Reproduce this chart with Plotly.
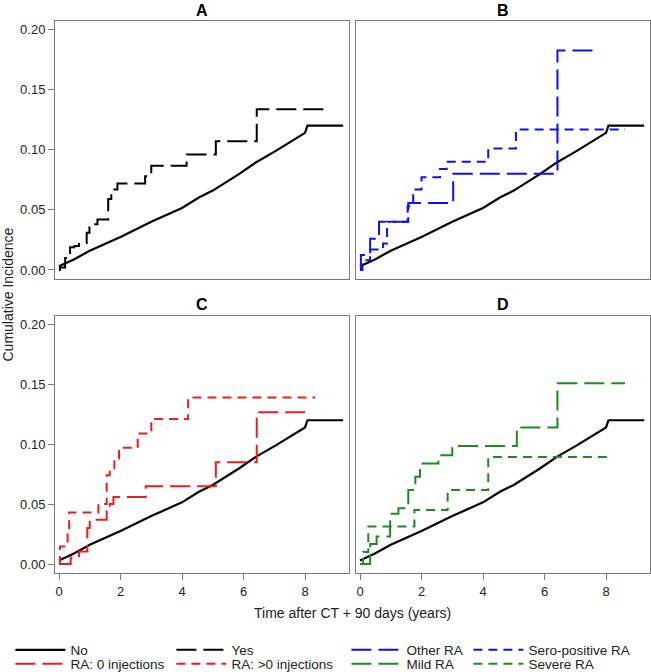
import plotly.graph_objects as go
from plotly.subplots import make_subplots

# ---------------- data ----------------
# Reference group "No" (solid black, shown in every panel)
no_t = [0, 0.5, 1, 2, 3, 4, 4.55, 5, 5.85, 6.4, 7.05, 7.48, 7.91, 8.0, 8.08, 9.24]
no_ci = [0.003, 0.009, 0.016, 0.0275, 0.040, 0.0515, 0.0603, 0.066, 0.0797,
         0.0894, 0.099, 0.106, 0.113, 0.114, 0.120, 0.120]

# Panel A: "Yes"
yes_t = [0, 0.03, 0.2, 0.36, 0.5, 0.65, 0.9, 0.99, 1.25, 1.6, 1.7, 1.8, 1.9, 2.8, 3.0, 4.15, 5.1, 6.43, 8.65]
yes_ci = [0.0, 0.002, 0.010, 0.019, 0.020, 0.0225, 0.031, 0.038, 0.042, 0.059, 0.063, 0.067,
          0.072, 0.078, 0.0867, 0.096, 0.107, 0.1336, 0.1336]

# Panel B: "Other RA" and "Sero-positive RA"
other_t = [0, 0.03, 0.33, 0.62, 1.57, 3.03, 6.42, 7.78]
other_ci = [0.0, 0.0125, 0.026, 0.040, 0.0556, 0.080, 0.1825, 0.1825]
sero_t = [0, 0.08, 0.33, 0.75, 0.88, 1.55, 1.73, 2.0, 2.6, 2.82, 4.17, 5.07, 8.62]
sero_ci = [0.0, 0.008, 0.017, 0.022, 0.040, 0.053, 0.067, 0.077, 0.084, 0.090, 0.101, 0.1167, 0.1167]

# Panel C: "RA: 0 injections" and "RA: >0 injections"
inj0_t = [0, 0.38, 0.65, 0.92, 1.0, 1.55, 1.65, 1.77, 2.82, 5.1, 6.43, 8.2]
inj0_ci = [0.0, 0.0055, 0.0105, 0.030, 0.037, 0.044, 0.050, 0.056, 0.065, 0.085, 0.1267, 0.1267]
injp_t = [0, 0.03, 0.28, 0.33, 1.28, 1.55, 1.65, 1.8, 1.95, 2.56, 3.0, 4.2, 8.33]
injp_ci = [0.0, 0.0147, 0.0257, 0.043, 0.050, 0.074, 0.078, 0.088, 0.097, 0.109, 0.121, 0.139, 0.139]

# Panel D: "Mild RA" and "Severe RA"
mild_t = [0, 0.33, 0.54, 0.98, 1.25, 1.57, 1.8, 1.95, 2.55, 3.0, 5.1, 6.42, 8.62]
mild_ci = [0.0, 0.0166, 0.023, 0.042, 0.0465, 0.0617, 0.0728, 0.0838, 0.0907, 0.0985, 0.114, 0.1508, 0.1508]
sev_t = [0, 0.1, 0.27, 1.77, 2.85, 4.17, 8.18]
sev_ci = [0.0, 0.010, 0.0313, 0.045, 0.0617, 0.0894, 0.0894]

panel_titles = ["A", "B", "C", "D"]
y_ticks = [0.0, 0.05, 0.10, 0.15, 0.20]
y_tick_text = ["0.00", "0.05", "0.10", "0.15", "0.20"]
x_ticks = [0, 2, 4, 6, 8]

# ---------------- figure ----------------
FONT = "Liberation Sans, Arial, Helvetica, sans-serif"
BLUE = "#1010ee"
RED = "#ee1c1c"
GREEN = "#1f8a1f"
LONG = "20px,7px"
SHORT = "9px,6px"

W, H = 651, 672
ML, MR, MT, MB = 55, 1, 21, 99
PW, PH = W - ML - MR, H - MT - MB


def px_x(px):
    return (px - ML) / PW


def px_y(py):
    return (H - MB - py) / PH


fig = make_subplots(rows=2, cols=2, subplot_titles=panel_titles,
                    horizontal_spacing=0.012, vertical_spacing=0.067)


def add_no(row, col, show):
    fig.add_trace(go.Scatter(x=no_t, y=no_ci, mode="lines", name="No",
                             line=dict(color="black", width=2.2),
                             showlegend=show, legend="legend"), row=row, col=col)


def add_step(t, ci, name, color, dash, row, col, legend):
    fig.add_trace(go.Scatter(x=t, y=ci, mode="lines", name=name,
                             line=dict(color=color, width=2, dash=dash, shape="hv"),
                             legend=legend), row=row, col=col)


add_no(1, 1, True)
add_step(yes_t, yes_ci, "Yes", "black", LONG, 1, 1, "legend2")
add_no(1, 2, False)
add_step(other_t, other_ci, "Other RA", BLUE, LONG, 1, 2, "legend3")
add_step(sero_t, sero_ci, "Sero-positive RA", BLUE, SHORT, 1, 2, "legend4")
add_no(2, 1, False)
add_step(inj0_t, inj0_ci, "RA: 0 injections", RED, LONG, 2, 1, "legend5")
add_step(injp_t, injp_ci, "RA: >0 injections", RED, SHORT, 2, 1, "legend6")
add_no(2, 2, False)
add_step(mild_t, mild_ci, "Mild RA", GREEN, LONG, 2, 2, "legend7")
add_step(sev_t, sev_ci, "Severe RA", GREEN, SHORT, 2, 2, "legend8")

axis_common = dict(showline=True, mirror=True, linecolor="#7a7a7a", linewidth=1,
                   showgrid=False, zeroline=False, ticklen=6,
                   tickcolor="#7a7a7a", tickfont=dict(size=13, color="#222"))

for r in (1, 2):
    for c in (1, 2):
        fig.update_xaxes(range=[-0.13, 9.43], tickvals=x_ticks,
                         showticklabels=(r == 2), ticks=("outside" if r == 2 else ""),
                         row=r, col=c, **axis_common)
        fig.update_yaxes(range=[-0.0075, 0.207], tickvals=y_ticks, ticktext=y_tick_text,
                         showticklabels=(c == 1), ticks=("outside" if c == 1 else ""),
                         row=r, col=c, **axis_common)

# exact domains
top_lo, top_hi = px_y(279), px_y(21)
bot_lo, bot_hi = px_y(573), px_y(316)
left_lo, left_hi = px_x(55), px_x(349)
right_lo, right_hi = px_x(356), px_x(650)
fig.update_layout(
    xaxis=dict(domain=[left_lo, left_hi]), xaxis2=dict(domain=[right_lo, right_hi]),
    xaxis3=dict(domain=[left_lo, left_hi]), xaxis4=dict(domain=[right_lo, right_hi]),
    yaxis=dict(domain=[top_lo, top_hi]), yaxis2=dict(domain=[top_lo, top_hi]),
    yaxis3=dict(domain=[bot_lo, bot_hi]), yaxis4=dict(domain=[bot_lo, bot_hi]),
)

# panel titles
title_x = [(left_lo + left_hi) / 2, (right_lo + right_hi) / 2] * 2
title_y = [top_hi, top_hi, bot_hi, bot_hi]
title_shift = [0, 0, 1, 1]
for i, ann in enumerate(fig.layout.annotations):
    ann.font = dict(size=16, color="black", family=FONT)
    ann.text = "<b>" + panel_titles[i] + "</b>"
    ann.x = title_x[i]
    ann.y = title_y[i]
    ann.yshift = title_shift[i]

fig.add_annotation(text="Cumulative Incidence", xref="paper", yref="paper",
                   x=px_x(7.5), y=px_y(295), textangle=-90, showarrow=False,
                   xanchor="center", yanchor="middle",
                   font=dict(size=14, color="#222", family=FONT))
fig.add_annotation(text="Time after CT + 90 days (years)", xref="paper", yref="paper",
                   x=px_x(352), y=px_y(613), showarrow=False,
                   xanchor="center", yanchor="middle",
                   font=dict(size=14, color="#222", family=FONT))

# legends: one per entry, placed in two rows of four
leg_common = dict(orientation="h", xanchor="left", yanchor="middle",
                  itemwidth=50, font=dict(size=13.5, color="#222", family=FONT),
                  bgcolor="rgba(0,0,0,0)", borderwidth=0)
col_px = [10.4, 171.4, 346.4, 468.4]
row_px = [650, 664]
legends = {}
names = ["legend", "legend2", "legend3", "legend4", "legend5", "legend6", "legend7", "legend8"]
for k, nm in enumerate(names):
    r, c = divmod(k, 4)
    legends[nm] = dict(x=px_x(col_px[c]), y=px_y(row_px[r]), **leg_common)

fig.update_layout(
    width=W, height=H,
    margin=dict(l=ML, r=MR, t=MT, b=MB, autoexpand=False),
    paper_bgcolor="white", plot_bgcolor="white",
    font=dict(family=FONT, color="#222"),
    **legends,
)

fig.write_html("out.html", config={"displayModeBar": False},
               post_script="document.body.style.margin='0px';")
